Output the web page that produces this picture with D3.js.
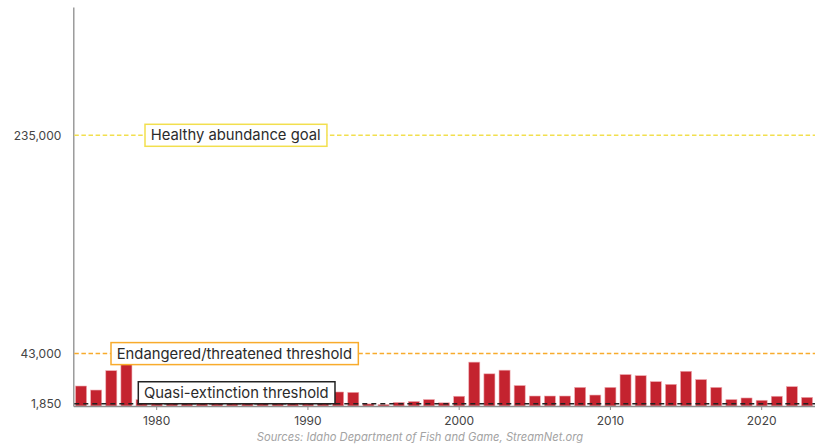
<!DOCTYPE html>
<html>
<head>
<meta charset="utf-8">
<script src="https://cdn.jsdelivr.net/npm/d3@7"></script>
<style>
	body { margin: 0; background: #fff; }
	#chart { width: 815px; height: 447px; }
	text { font-family: Inter, "Noto Sans", sans-serif; }
</style>
</head>
<body>
<div id="chart"></div>
<script>
var years = [];
for (var yr = 1975; yr <= 2023; yr++) years.push(yr);

// adult returns per year (1980-1991 hidden behind a label)
var returns = [16400, 13100, 29000, 34000, 5200,
	3000, 4000, 3500, 5000, 4000, 5500, 8000, 7000, 9000, 3500, 4000, 5000,
	11500, 11200, 1700, 1200, 2900, 3700, 5300, 2600, 8000,
	36000, 26400, 29400, 16800, 8200, 8200, 8200, 15300, 9000, 15300,
	25800, 24900, 20000, 17800, 28500, 21700, 15300, 5300, 6600, 4700,
	8000, 15900, 7100
];

var tickYears = [1980, 1990, 2000, 2010, 2020];
var yTicks = [1850, 43000, 235000];

var thresholdValues = [235000, 43000, 1850];
var thresholdLabels = ["Healthy abundance goal", "Endangered/threatened threshold", "Quasi-extinction threshold"];
var thresholdColors = ["#f2df4e", "#f8ab2c", "#222222"];

var source = "Sources: Idaho Department of Fish and Game, StreamNet.org";

drawChart();

function drawChart() {
	const margin = {
		top: 7,
		right: 0,
		bottom: 41,
		left: 73.3
	};
	const width = 815 - margin.left - margin.right;
	const height = 447 - margin.top - margin.bottom;

	const xScale = d3.scaleBand()
		.domain(years)
		.range([0, 741.5])
		.paddingInner(0.27)
		.paddingOuter(0.148);

	// the picture's value axis is not quite even, so it is piecewise
	const yScale = d3.scaleLinear()
		.domain([0, 43000, 235000, 347000])
		.range([height, height - 52.4, height - 270.7, 0]);

	const svg = d3.select("#chart").append("svg")
		.attr("width", 815)
		.attr("height", 447);

	const g = svg.append("g")
		.attr("transform", "translate(" + margin.left + "," + margin.top + ")");

	// bars
	g.selectAll(".bar")
		.data(years)
		.enter()
		.append("rect")
		.attr("class", "bar")
		.attr("x", d => xScale(d))
		.attr("width", xScale.bandwidth())
		.attr("y", (d, i) => yScale(returns[i]))
		.attr("height", (d, i) => height - yScale(returns[i]))
		.attr("fill", "#c4232f")
		.attr("stroke", "#eeaab0")
		.attr("stroke-width", 0.6);

	// x axis
	const xAxis = d3.axisBottom(xScale)
		.tickValues(tickYears)
		.tickSize(4)
		.tickSizeOuter(0)
		.tickPadding(6);

	const xg = g.append("g")
		.attr("class", "xaxis")
		.attr("transform", "translate(0," + height + ")")
		.call(xAxis);
	xg.select(".domain").attr("stroke", "#8c8c8c").attr("stroke-width", 1.3);
	xg.selectAll(".tick line").attr("stroke", "#8c8c8c");
	xg.selectAll(".tick text")
		.attr("fill", "#444")
		.style("font-size", "12px");

	// y axis
	const yAxis = d3.axisLeft(yScale)
		.tickValues(yTicks)
		.tickSize(0)
		.tickPadding(12)
		.tickFormat(d3.format(","));

	const yg = g.append("g")
		.attr("class", "yaxis")
		.call(yAxis);
	yg.select(".domain").attr("stroke", "#8c8c8c").attr("stroke-width", 1.3);
	yg.selectAll(".tick text")
		.attr("fill", "#444")
		.style("font-size", "12px");

	// threshold lines
	g.selectAll(".threshold")
		.data(thresholdValues)
		.enter()
		.append("line")
		.attr("class", "threshold")
		.attr("x1", 1)
		.attr("x2", width)
		.attr("y1", d => yScale(d))
		.attr("y2", d => yScale(d))
		.attr("stroke", (d, i) => thresholdColors[i])
		.attr("stroke-width", (d, i) => i == 2 ? 1.6 : 1.5)
		.attr("stroke-dasharray", (d, i) => i == 2 ? "5,4" : "4.5,2.6");

	// label boxes: left edge and vertical placement per label
	var labelX = [71.7, 37.7, 65];
	var labelShift = [0, 0, -11];

	thresholdValues.forEach(function(v, i) {
		var cy = yScale(v) + labelShift[i];
		var lg = g.append("g").attr("class", "label");
		var box = lg.append("rect");
		var txt = lg.append("text")
			.attr("x", labelX[i] + 5.7)
			.attr("y", cy)
			.attr("dy", "0.35em")
			.attr("fill", "#2b2b2b")
			.style("font-size", "14.8px")
			.text(thresholdLabels[i]);
		var w = txt.node().getComputedTextLength();
		box.attr("x", labelX[i])
			.attr("y", cy - 11)
			.attr("width", w + 12)
			.attr("height", 22)
			.attr("fill", "#fff")
			.attr("stroke", thresholdColors[i])
			.attr("stroke-width", 1.5);
	});

	svg.append("text")
		.attr("x", 420)
		.attr("y", 441)
		.attr("text-anchor", "middle")
		.attr("fill", "#a3a3a3")
		.style("font-size", "11.2px")
		.style("font-style", "italic")
		.text(source);
}
</script>
</body>
</html>
